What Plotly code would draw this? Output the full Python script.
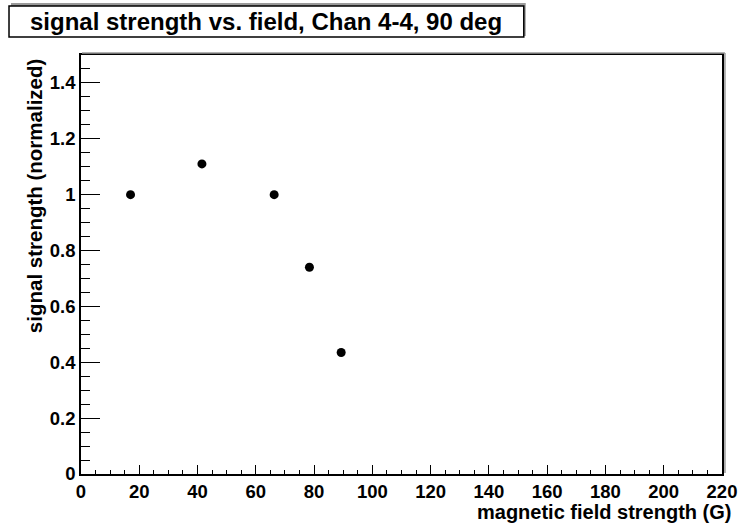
import plotly.graph_objects as go

# Data
field_G = [17.0, 41.5, 66.3, 78.4, 89.3]
signal_norm = [1.00, 1.11, 1.00, 0.74, 0.435]

title_text = "signal strength vs. field, Chan 4-4, 90 deg"
x_title = "magnetic field strength (G)"
y_title = "signal strength (normalized)"

x_tickvals = [0, 20, 40, 60, 80, 100, 120, 140, 160, 180, 200, 220]
x_ticktext = ["0", "20", "40", "60", "80", "100", "120", "140", "160", "180", "200", "220"]
y_tickvals = [0, 0.2, 0.4, 0.6, 0.8, 1.0, 1.2, 1.4]
y_ticktext = ["0", "0.2", "0.4", "0.6", "0.8", "1", "1.2", "1.4"]

W, H = 749, 523
L, R, T, B = 81, 731, 55, 474  # plot area in pixels


def px(x):
    return (x - L) / (R - L)


def py(y):
    return (B - y) / (B - T)


FONT = "Liberation Sans, Arial, Helvetica, sans-serif"

fig = go.Figure()
fig.add_trace(go.Scatter(
    x=field_G, y=signal_norm, mode="markers",
    marker=dict(color="black", size=9, symbol="circle"),
    showlegend=False,
))

axis_common = dict(
    showgrid=False, zeroline=False, showline=True, linecolor="black",
    linewidth=1.5, mirror=True, ticks="inside", tickcolor="black",
    tickwidth=1.2,
    tickfont=dict(family=FONT, size=18.5, color="black", weight="bold"),
)

fig.update_xaxes(
    range=[0, 220], tickmode="array", tickvals=x_tickvals, ticktext=x_ticktext,
    ticklen=9,
    minor=dict(ticks="inside", ticklen=4.5, dtick=5, tickcolor="black", tickwidth=1.2),
    **axis_common,
)
fig.update_yaxes(
    range=[0, 1.5], tickmode="array", tickvals=y_tickvals, ticktext=y_ticktext,
    ticklen=19,
    minor=dict(ticks="inside", ticklen=9.5, dtick=0.05, tickcolor="black", tickwidth=1.2),
    **axis_common,
)

shapes = [
    # frame shadow (top and right)
    dict(type="line", xref="paper", yref="paper", x0=px(L + 1), x1=px(R + 3),
         y0=py(T - 2), y1=py(T - 2), line=dict(color="#999999", width=1.5)),
    dict(type="line", xref="paper", yref="paper", x0=px(R + 3), x1=px(R + 3),
         y0=py(T - 2), y1=py(B - 1), line=dict(color="#999999", width=1.5)),
    # title box shadow
    dict(type="rect", xref="paper", yref="paper", x0=px(10), x1=px(532),
         y0=py(36), y1=py(3), fillcolor="#9a9a9a", line=dict(width=0), layer="below"),
    # title box
    dict(type="rect", xref="paper", yref="paper", x0=px(8), x1=px(530),
         y0=py(37), y1=py(6), fillcolor="white", line=dict(color="black", width=1.5)),
]

annotations = [
    dict(text=title_text, xref="paper", yref="paper", x=px(269), y=py(21.5),
         xanchor="center", yanchor="middle", showarrow=False,
         font=dict(family=FONT, size=24, color="black", weight="bold")),
    dict(text=x_title, xref="paper", yref="paper", x=px(742), y=py(512),
         xanchor="right", yanchor="middle", showarrow=False,
         font=dict(family=FONT, size=20, color="black", weight="bold")),
    dict(text=y_title, xref="paper", yref="paper", x=px(34), y=py(56),
         xanchor="center", yanchor="top", textangle=-90, showarrow=False,
         font=dict(family=FONT, size=20.5, color="black", weight="bold")),
]

fig.update_layout(
    width=W, height=H,
    margin=dict(l=L, r=W - R, t=T, b=H - B, pad=0),
    paper_bgcolor="white", plot_bgcolor="white",
    shapes=shapes, annotations=annotations,
)

fig.write_html("out.html")
